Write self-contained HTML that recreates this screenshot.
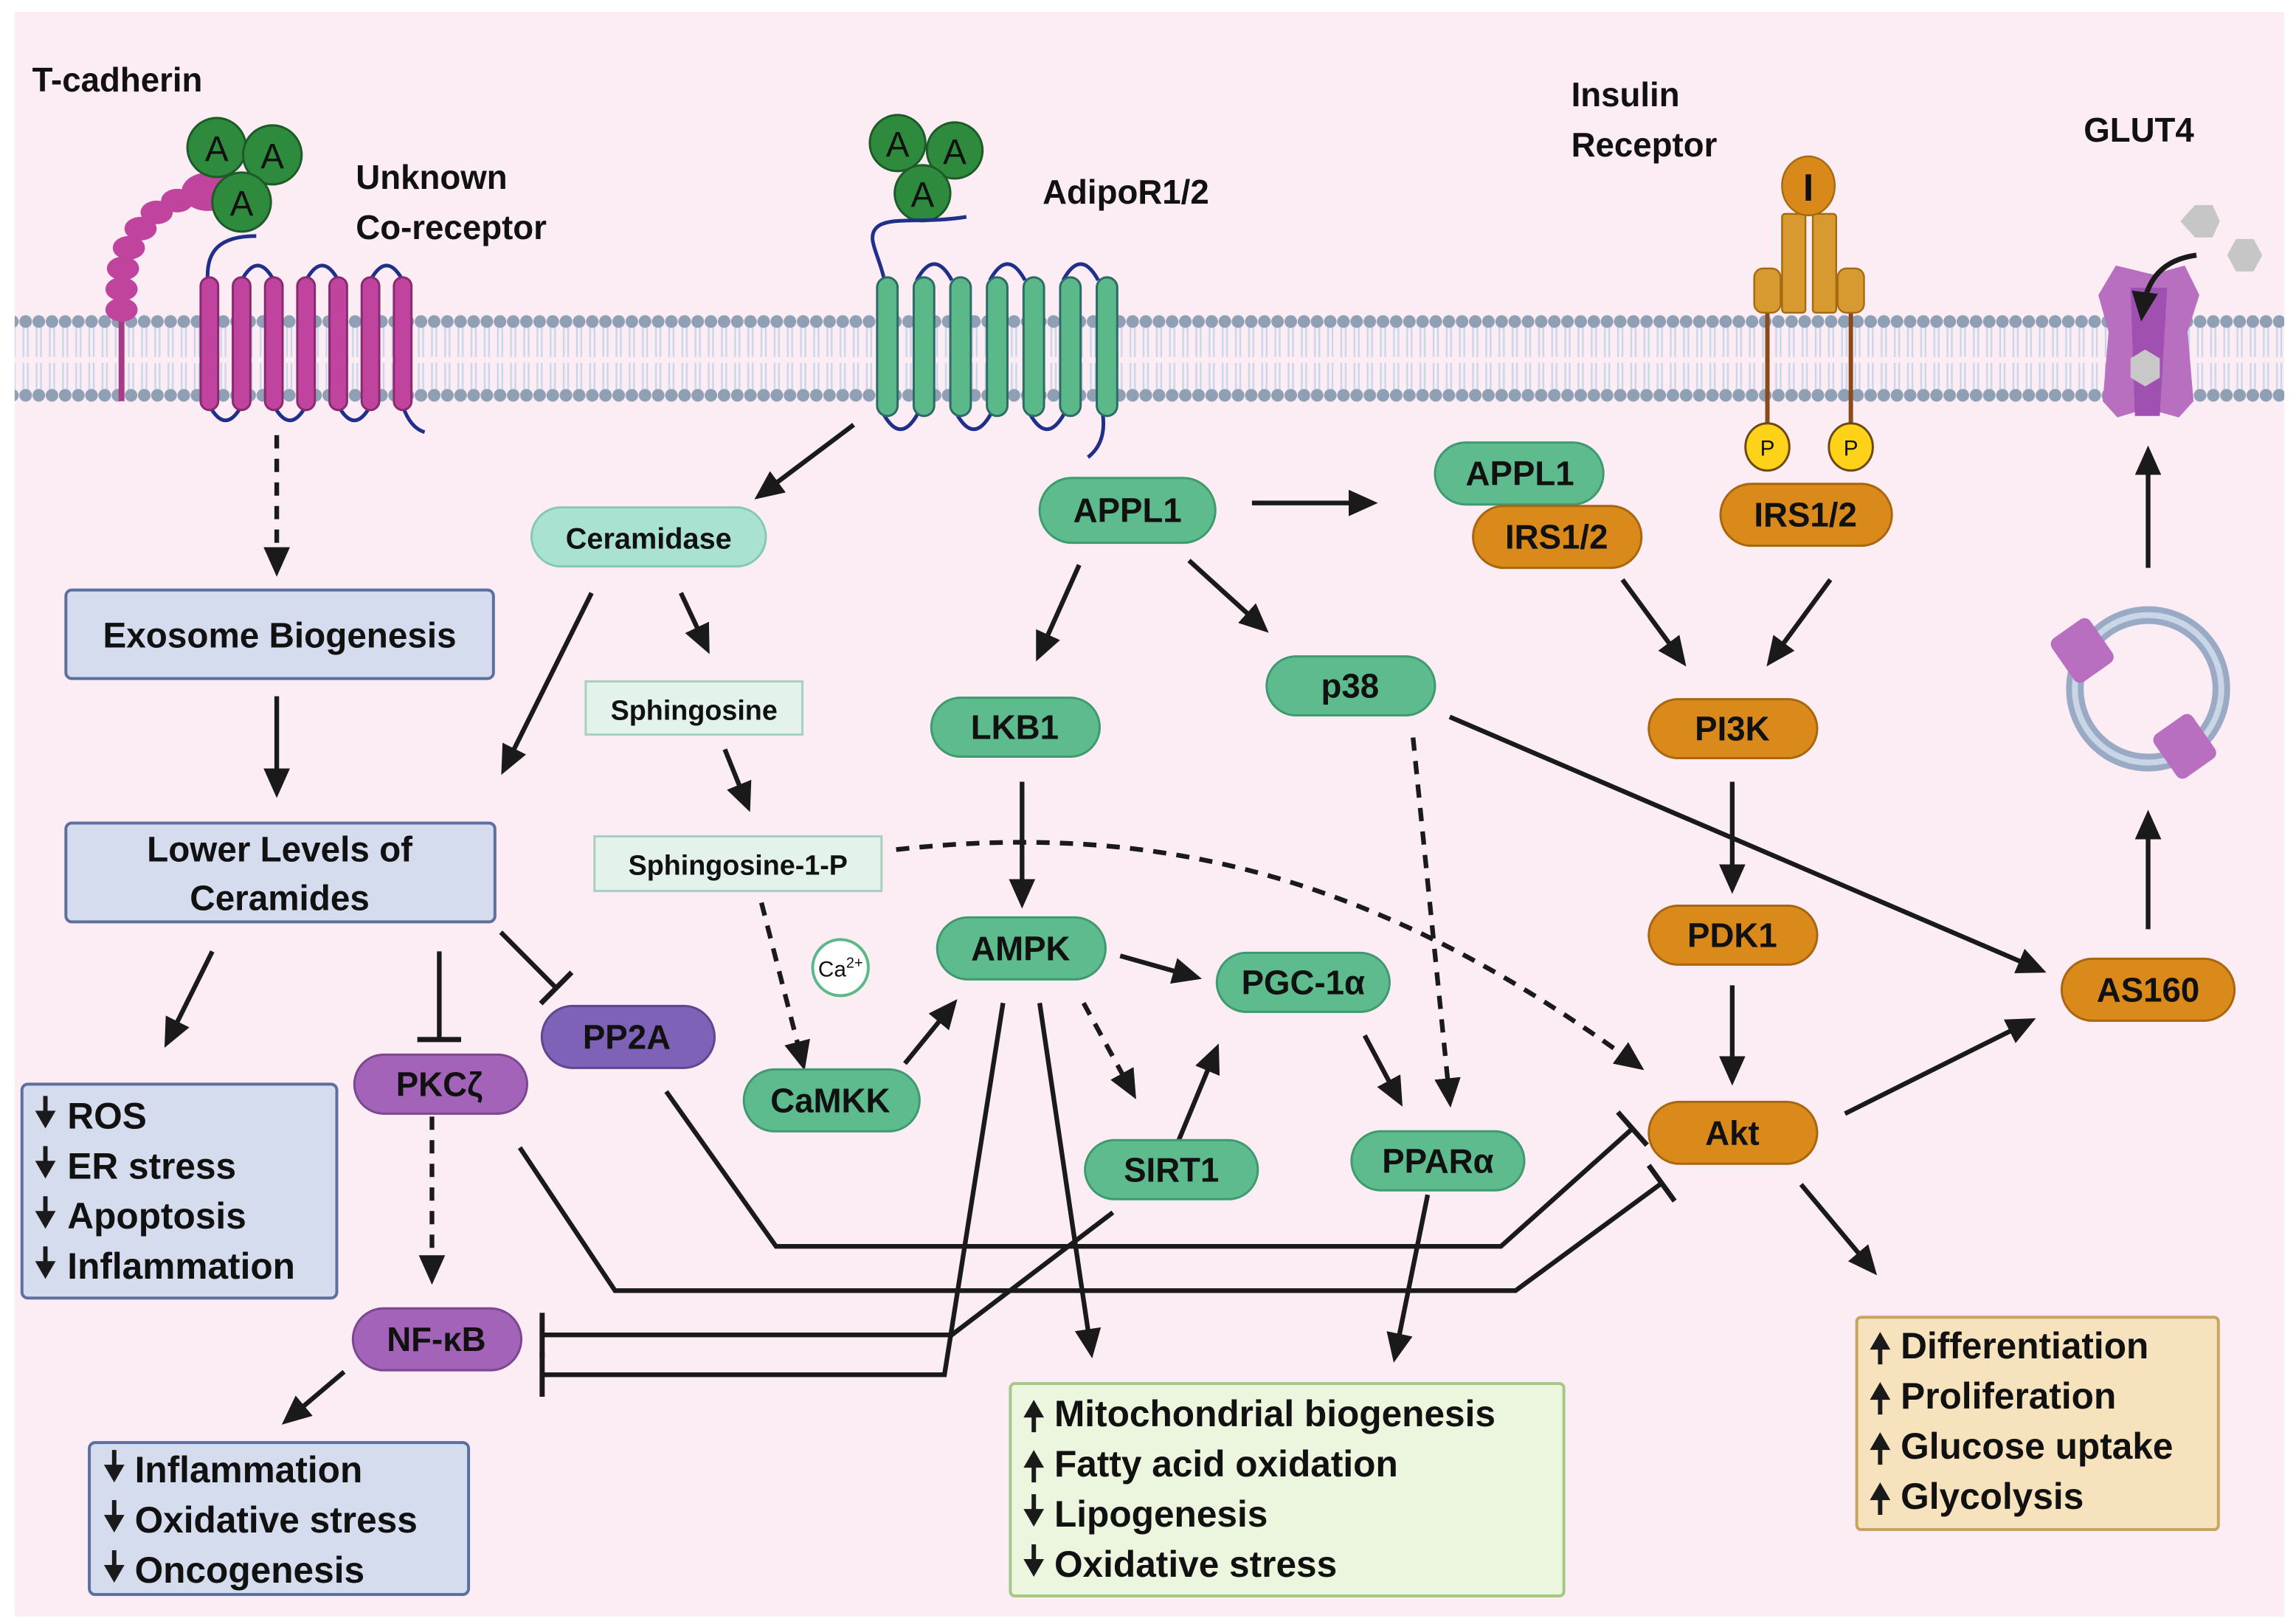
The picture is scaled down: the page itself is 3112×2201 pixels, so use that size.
<!DOCTYPE html>
<html><head><meta charset="utf-8"><style>
html,body{margin:0;padding:0;background:#fff;}
svg{display:block;}
text{font-family:"Liberation Sans",sans-serif;font-weight:bold;fill:#111;}
</style></head><body>
<svg width="3112" height="2201" viewBox="0 0 1568 1101" preserveAspectRatio="none" xmlns="http://www.w3.org/2000/svg">
<defs>
<marker id="ah" viewBox="0 0 20 20" refX="14" refY="10" markerWidth="20" markerHeight="20" orient="auto" markerUnits="userSpaceOnUse">
<path d="M0,1 L20,10 L0,19 Z" fill="#1a1a1a"/>
</marker>
<marker id="tb" viewBox="0 0 10 30" refX="5" refY="15" markerWidth="10" markerHeight="30" orient="auto" markerUnits="userSpaceOnUse">
<rect x="3" y="0" width="3.5" height="30" fill="#1a1a1a"/>
</marker>
<pattern id="mem" x="4" y="0" width="9" height="70" patternUnits="userSpaceOnUse">
<circle cx="4.5" cy="8" r="4.3" fill="#8f9fb4"/>
<circle cx="4.5" cy="58" r="4.3" fill="#8f9fb4"/>
<path d="M3,12 L3,32 M6,12 L6,32 M3,36 L3,54 M6,36 L6,54" stroke="#c9d6e8" stroke-width="1.2"/>
</pattern>
</defs>
<rect x="10" y="8" width="1550" height="1088" fill="#fcedf5"/>
<rect x="10" y="210" width="1550" height="70" fill="url(#mem)"/>

<!-- T-cadherin -->
<text x="22" y="62" font-size="23">T-cadherin</text>
<line x1="83" y1="215" x2="83" y2="272" stroke="#a83b88" stroke-width="4"/>
<g fill="#c0439d">
<ellipse cx="83" cy="210" rx="11" ry="8"/><ellipse cx="83" cy="196" rx="11" ry="8"/><ellipse cx="84" cy="182" rx="11" ry="8"/>
<ellipse cx="88" cy="168" rx="11" ry="8"/><ellipse cx="96" cy="155" rx="11" ry="8"/><ellipse cx="107" cy="144" rx="11" ry="8"/>
<ellipse cx="121" cy="136" rx="11" ry="8"/><ellipse cx="142" cy="130" rx="18" ry="13"/>
</g>
<g fill="#2e8b3e" stroke="#1d5a28" stroke-width="1.5">
<circle cx="148" cy="100" r="20"/><circle cx="186" cy="105" r="20"/><circle cx="165" cy="137" r="20"/>
</g>
<text x="148" y="109" font-size="24" text-anchor="middle" style="font-weight:normal">A</text>
<text x="186" y="114" font-size="24" text-anchor="middle" style="font-weight:normal">A</text>
<text x="165" y="146" font-size="24" text-anchor="middle" style="font-weight:normal">A</text>
<text x="243" y="128" font-size="23">Unknown</text>
<text x="243" y="162" font-size="23">Co-receptor</text>
<path d="M142,192 C140,170 150,160 175,160" stroke="#1f2f8a" stroke-width="2.5" fill="none"/>
<path d="M165,190 q11,-20 22,0 M209,190 q11,-20 22,0 M253,190 q11,-20 22,0" stroke="#1f2f8a" stroke-width="2.5" fill="none"/>
<path d="M143,275 q11,20 22,0 M187,275 q11,20 22,0 M231,275 q11,20 22,0 M275,275 q5,15 15,18" stroke="#1f2f8a" stroke-width="2.5" fill="none"/>
<g fill="#c0439d" stroke="#8a2a70" stroke-width="1.5">
<rect x="137" y="188" width="12" height="90" rx="6"/><rect x="159" y="188" width="12" height="90" rx="6"/><rect x="181" y="188" width="12" height="90" rx="6"/>
<rect x="203" y="188" width="12" height="90" rx="6"/><rect x="225" y="188" width="12" height="90" rx="6"/><rect x="247" y="188" width="12" height="90" rx="6"/><rect x="269" y="188" width="12" height="90" rx="6"/>
</g>

<!-- AdipoR -->
<g fill="#2e8b3e" stroke="#1d5a28" stroke-width="1.5">
<circle cx="613" cy="97" r="19"/><circle cx="652" cy="102" r="19"/><circle cx="630" cy="131" r="19"/>
</g>
<text x="613" y="106" font-size="24" text-anchor="middle" style="font-weight:normal">A</text>
<text x="652" y="111" font-size="24" text-anchor="middle" style="font-weight:normal">A</text>
<text x="630" y="140" font-size="24" text-anchor="middle" style="font-weight:normal">A</text>
<path d="M604,190 C600,172 592,162 598,155 C605,146 630,152 660,147" stroke="#1f2f8a" stroke-width="2.5" fill="none"/>
<path d="M626,190 q12,-22 24,0 M676,190 q12,-22 24,0 M726,190 q12,-22 24,0" stroke="#1f2f8a" stroke-width="2.5" fill="none"/>
<path d="M603,280 q12,22 24,0 M653,280 q12,22 24,0 M703,280 q12,22 24,0 M753,280 q3,20 -10,30" stroke="#1f2f8a" stroke-width="2.5" fill="none"/>
<g fill="#5bb889" stroke="#2d6a68" stroke-width="1.5">
<rect x="599" y="188" width="14" height="94" rx="7"/><rect x="624" y="188" width="14" height="94" rx="7"/><rect x="649" y="188" width="14" height="94" rx="7"/>
<rect x="674" y="188" width="14" height="94" rx="7"/><rect x="699" y="188" width="14" height="94" rx="7"/><rect x="724" y="188" width="14" height="94" rx="7"/><rect x="749" y="188" width="14" height="94" rx="7"/>
</g>
<text x="712" y="138" font-size="23">AdipoR1/2</text>

<!-- Insulin receptor -->
<text x="1073" y="72" font-size="23">Insulin</text>
<text x="1073" y="106" font-size="23">Receptor</text>
<line x1="1207" y1="210" x2="1207" y2="290" stroke="#8a4a1a" stroke-width="3"/>
<line x1="1264" y1="210" x2="1264" y2="290" stroke="#8a4a1a" stroke-width="3"/>
<g fill="#d69a30" stroke="#a36a10" stroke-width="1.2">
<rect x="1198" y="182" width="18" height="30" rx="6"/><rect x="1255" y="182" width="18" height="30" rx="6"/>
<rect x="1217" y="145" width="16" height="67" rx="2"/><rect x="1238" y="145" width="16" height="67" rx="2"/>
<ellipse cx="1235" cy="126" rx="18" ry="20" fill="#d9891a"/>
</g>
<text x="1235" y="136" font-size="26" text-anchor="middle" font-family="Liberation Serif">I</text>
<g fill="#ffd21a" stroke="#6b4a10" stroke-width="1.5"><ellipse cx="1207" cy="303" rx="15" ry="16"/><ellipse cx="1264" cy="303" rx="15" ry="16"/></g>
<text x="1207" y="309" font-size="15" text-anchor="middle" style="font-weight:normal">P</text>
<text x="1264" y="309" font-size="15" text-anchor="middle" style="font-weight:normal">P</text>

<!-- GLUT4 -->
<text x="1423" y="96" font-size="23">GLUT4</text>
<path d="M1433,200 L1445,180 L1470,186 L1492,180 L1502,200 L1494,225 L1498,272 L1488,283 L1466,277 L1446,283 L1436,272 L1440,225 Z" fill="#b86fc0"/>
<path d="M1455,195 L1480,195 L1475,282 L1458,282 Z" fill="#a050b0"/>
<polygon points="1455,243 1465,237 1475,243 1475,256 1465,262 1455,256" fill="#c8c8c8"/>
<polygon points="1489,150 1499,139 1511,139 1516,150 1511,161 1499,161" fill="#c6c6c6"/>
<polygon points="1521,173 1527,162 1539,162 1545,173 1539,184 1527,184" fill="#c6c6c6"/>
<path d="M1500,173 C1478,176 1466,188 1463,212" stroke="#1a1a1a" stroke-width="3.5" fill="none" marker-end="url(#ah)"/>
<circle cx="1467" cy="467" r="50" fill="none" stroke="#9aa9c4" stroke-width="12"/>
<circle cx="1467" cy="467" r="50" fill="none" stroke="#c9d6e8" stroke-width="4"/>
<g fill="#b86fc0"><rect x="1406" y="423" width="32" height="36" rx="5" transform="rotate(-35 1422 441)"/><rect x="1476" y="488" width="32" height="36" rx="5" transform="rotate(-35 1492 506)"/></g>

<!-- boxes -->
<g stroke="#5d6f9e" stroke-width="2" fill="#d4dcee">
<rect x="45" y="400" width="292" height="60" rx="4"/>
<rect x="45" y="558" width="293" height="67" rx="4"/>
<rect x="15" y="735" width="215" height="145" rx="4"/>
<rect x="61" y="978" width="259" height="103" rx="4"/>
</g>
<rect x="690" y="938" width="378" height="144" rx="3" fill="#ecf6de" stroke="#a3c885" stroke-width="2"/>
<rect x="1268" y="893" width="247" height="144" rx="3" fill="#f6e3bd" stroke="#c8a460" stroke-width="2"/>
<text x="191" y="439" font-size="24" text-anchor="middle">Exosome Biogenesis</text>
<text x="191" y="584" font-size="24" text-anchor="middle">Lower Levels of</text>
<text x="191" y="617" font-size="24" text-anchor="middle">Ceramides</text>
<g font-size="25">
<text x="46" y="765">ROS</text><text x="46" y="799">ER stress</text><text x="46" y="833">Apoptosis</text><text x="46" y="867">Inflammation</text>
<text x="92" y="1005">Inflammation</text><text x="92" y="1039">Oxidative stress</text><text x="92" y="1073">Oncogenesis</text>
<text x="720" y="967">Mitochondrial biogenesis</text><text x="720" y="1001">Fatty acid oxidation</text><text x="720" y="1035">Lipogenesis</text><text x="720" y="1069">Oxidative stress</text>
<text x="1298" y="921">Differentiation</text><text x="1298" y="955">Proliferation</text><text x="1298" y="989">Glucose uptake</text><text x="1298" y="1023">Glycolysis</text>
</g>
<defs>
<g id="da"><line x1="0" y1="-18" x2="0" y2="-6" stroke="#1a1a1a" stroke-width="3"/><path d="M-7,-8 L7,-8 L0,4 Z" fill="#1a1a1a"/></g>
<g id="ua"><line x1="0" y1="-4" x2="0" y2="8" stroke="#1a1a1a" stroke-width="3"/><path d="M-7,-2 L7,-2 L0,-14 Z" fill="#1a1a1a"/></g>
</defs>
<use href="#da" x="31" y="761"/><use href="#da" x="31" y="795"/><use href="#da" x="31" y="829"/><use href="#da" x="31" y="863"/>
<use href="#da" x="78" y="1001"/><use href="#da" x="78" y="1035"/><use href="#da" x="78" y="1069"/>
<use href="#da" x="706" y="1031"/><use href="#da" x="706" y="1065"/>
<use href="#ua" x="706" y="963"/><use href="#ua" x="706" y="997"/>
<use href="#ua" x="1284" y="917"/><use href="#ua" x="1284" y="951"/><use href="#ua" x="1284" y="985"/><use href="#ua" x="1284" y="1019"/>

<rect x="400" y="462" width="148" height="36" fill="#e3f3ec" stroke="#a8cfc0" stroke-width="1.5"/>
<rect x="406" y="567" width="196" height="37" fill="#e3f3ec" stroke="#a8cfc0" stroke-width="1.5"/>
<text x="474" y="488" font-size="19" text-anchor="middle">Sphingosine</text>
<text x="504" y="593" font-size="19" text-anchor="middle">Sphingosine-1-P</text>

<!-- arrows -->
<g stroke="#1a1a1a" stroke-width="3.2" fill="none">
<line x1="189" y1="295" x2="189" y2="385" stroke-dasharray="9,7" marker-end="url(#ah)"/>
<line x1="189" y1="472" x2="189" y2="535" marker-end="url(#ah)"/>
<line x1="145" y1="645" x2="115" y2="705" marker-end="url(#ah)"/>
<line x1="300" y1="645" x2="300" y2="705" marker-end="url(#tb)"/>
<line x1="342" y1="632" x2="380" y2="670" marker-end="url(#tb)"/>
<line x1="583" y1="288" x2="520" y2="335" marker-end="url(#ah)"/>
<line x1="404" y1="402" x2="345" y2="520" marker-end="url(#ah)"/>
<line x1="465" y1="402" x2="482" y2="438" marker-end="url(#ah)"/>
<line x1="495" y1="508" x2="510" y2="545" marker-end="url(#ah)"/>
<line x1="520" y1="612" x2="548" y2="720" stroke-dasharray="9,7" marker-end="url(#ah)"/>
<line x1="618" y1="721" x2="650" y2="682" marker-end="url(#ah)"/>
<line x1="855" y1="341" x2="935" y2="341" marker-end="url(#ah)"/>
<line x1="737" y1="383" x2="710" y2="443" marker-end="url(#ah)"/>
<line x1="812" y1="380" x2="862" y2="425" marker-end="url(#ah)"/>
<line x1="698" y1="530" x2="698" y2="610" marker-end="url(#ah)"/>
<line x1="765" y1="648" x2="815" y2="662" marker-end="url(#ah)"/>
<line x1="740" y1="680" x2="773" y2="740" stroke-dasharray="9,7" marker-end="url(#ah)"/>
<line x1="805" y1="773" x2="830" y2="713" marker-end="url(#ah)"/>
<line x1="932" y1="702" x2="955" y2="745" marker-end="url(#ah)"/>
<line x1="965" y1="500" x2="990" y2="745" stroke-dasharray="9,7" marker-end="url(#ah)"/>
<line x1="990" y1="486" x2="1392" y2="657" marker-end="url(#ah)"/>
<path d="M612,576 C800,555 950,600 1118,722" stroke-dasharray="9,7" marker-end="url(#ah)"/>
<line x1="1108" y1="393" x2="1148" y2="447" marker-end="url(#ah)"/>
<line x1="1250" y1="393" x2="1210" y2="447" marker-end="url(#ah)"/>
<line x1="1183" y1="530" x2="1183" y2="600" marker-end="url(#ah)"/>
<line x1="1183" y1="668" x2="1183" y2="730" marker-end="url(#ah)"/>
<line x1="1260" y1="755" x2="1385" y2="693" marker-end="url(#ah)"/>
<line x1="1230" y1="803" x2="1278" y2="860" marker-end="url(#ah)"/>
<line x1="1467" y1="630" x2="1467" y2="555" marker-end="url(#ah)"/>
<line x1="1467" y1="385" x2="1467" y2="308" marker-end="url(#ah)"/>
<line x1="295" y1="757" x2="295" y2="865" stroke-dasharray="9,7" marker-end="url(#ah)"/>
<line x1="235" y1="930" x2="197" y2="962" marker-end="url(#ah)"/>
<line x1="710" y1="680" x2="745" y2="915" marker-end="url(#ah)"/>
<line x1="975" y1="810" x2="953" y2="918" marker-end="url(#ah)"/>
<path d="M455,740 L530,845 L1025,845 L1115,765" marker-end="url(#tb)"/>
<path d="M355,778 L420,875 L1035,875 L1135,802" marker-end="url(#tb)"/>
<path d="M760,822 L650,905 L370,905" marker-end="url(#tb)"/>
<path d="M685,680 L645,932 L370,932" marker-end="url(#tb)"/>
</g>
<circle cx="574" cy="656" r="19" fill="#fff" stroke="#5bb889" stroke-width="2"/>
<text x="574" y="662" font-size="15" text-anchor="middle" style="font-weight:normal">Ca<tspan font-size="10" dy="-6">2+</tspan></text>

<!-- nodes -->
<g stroke-width="1.5">
<rect x="363" y="344" width="160" height="40" rx="20" fill="#a9e2d3" stroke="#86c7b5"/>
<rect x="710" y="324" width="120" height="44" rx="22" fill="#5dbb8d" stroke="#3f9a70"/>
<rect x="980" y="300" width="115" height="42" rx="21" fill="#5dbb8d" stroke="#3f9a70"/>
<rect x="1006" y="343" width="115" height="42" rx="21" fill="#d98a1a" stroke="#a96510"/>
<rect x="1175" y="328" width="117" height="42" rx="21" fill="#d98a1a" stroke="#a96510"/>
<rect x="636" y="473" width="115" height="40" rx="20" fill="#5dbb8d" stroke="#3f9a70"/>
<rect x="865" y="445" width="115" height="40" rx="20" fill="#5dbb8d" stroke="#3f9a70"/>
<rect x="640" y="622" width="115" height="42" rx="21" fill="#5dbb8d" stroke="#3f9a70"/>
<rect x="831" y="646" width="118" height="40" rx="20" fill="#5dbb8d" stroke="#3f9a70"/>
<rect x="508" y="725" width="120" height="42" rx="21" fill="#5dbb8d" stroke="#3f9a70"/>
<rect x="741" y="773" width="118" height="40" rx="20" fill="#5dbb8d" stroke="#3f9a70"/>
<rect x="923" y="767" width="118" height="40" rx="20" fill="#5dbb8d" stroke="#3f9a70"/>
<rect x="1126" y="474" width="115" height="40" rx="20" fill="#d98a1a" stroke="#a96510"/>
<rect x="1126" y="614" width="115" height="40" rx="20" fill="#d98a1a" stroke="#a96510"/>
<rect x="1126" y="747" width="115" height="42" rx="21" fill="#d98a1a" stroke="#a96510"/>
<rect x="1408" y="650" width="118" height="42" rx="21" fill="#d98a1a" stroke="#a96510"/>
<rect x="242" y="715" width="118" height="40" rx="20" fill="#a363b8" stroke="#7d4690"/>
<rect x="370" y="682" width="118" height="42" rx="21" fill="#7d62b8" stroke="#5b4890"/>
<rect x="241" y="887" width="115" height="42" rx="21" fill="#a363b8" stroke="#7d4690"/>
</g>
<g font-size="23" text-anchor="middle">
<text x="443" y="372" font-size="20">Ceramidase</text>
<text x="770" y="354">APPL1</text>
<text x="1038" y="329">APPL1</text>
<text x="1063" y="372">IRS1/2</text>
<text x="1233" y="357">IRS1/2</text>
<text x="693" y="501">LKB1</text>
<text x="922" y="473">p38</text>
<text x="697" y="651">AMPK</text>
<text x="890" y="674">PGC-1α</text>
<text x="567" y="754">CaMKK</text>
<text x="800" y="801">SIRT1</text>
<text x="982" y="795">PPARα</text>
<text x="1183" y="502">PI3K</text>
<text x="1183" y="642">PDK1</text>
<text x="1183" y="776">Akt</text>
<text x="1467" y="679">AS160</text>
<text x="300" y="743">PKCζ</text>
<text x="428" y="711">PP2A</text>
<text x="298" y="916">NF-κB</text>
</g>
</svg>
</body></html>
